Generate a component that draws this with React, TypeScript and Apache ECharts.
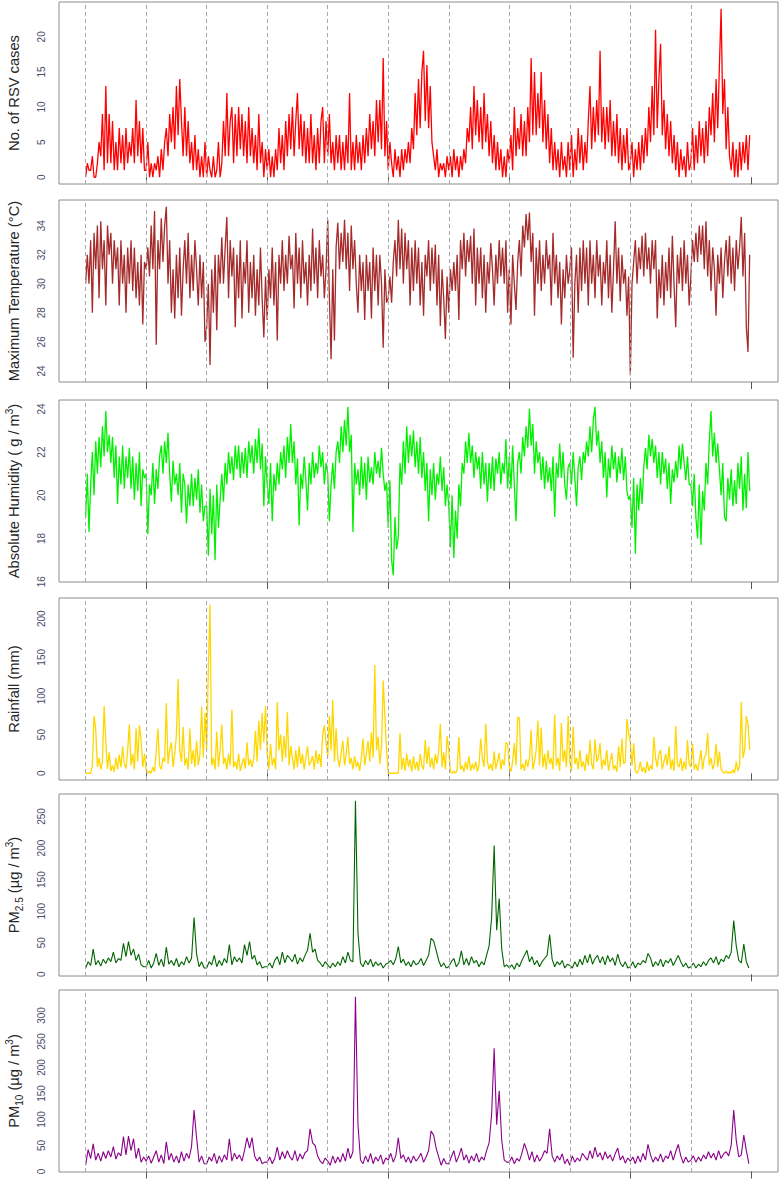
import React, { useEffect, useRef } from "react";
import * as echarts from "echarts";

// ---- data (one row per year) ----
const yearStarts = [0, 1, 2, 3, 4, 5, 6, 7, 8, 9, 10];
const xTicks = [1, 3, 5, 7, 9, 11];

// 36 samples per year
const rsvCases: number[] = [
  0,2,1, 1,3,0, 0,2,5, 3,9,1, 13,2,9, 2,8,1, 5,1,7, 2,6,1, 7,2,5, 3,7,2, 11,3,8, 2,7,1,
  1,5,0, 2,0,2, 1,3,0, 4,1,5, 7,3,9, 5,10,4, 13,6,14, 8,3,10, 3,8,2, 5,1,6, 1,4,0, 3,0,5,
  0,3,1, 0,3,0, 1,5,0, 2,8,3, 12,3,8, 10,2,9, 3,10,4, 9,3,8, 2,10,3, 7,2,6, 1,9,2, 5,0,4,
  1,4,0, 3,0,4, 1,7,2, 6,1,8, 3,9,4, 10,3,8, 12,4,9, 3,8,2, 7,2,9, 2,6,1, 7,2,8, 10,2,8,
  3,9,2, 5,1,6, 2,6,1, 5,1,6, 2,12,1, 5,1,6, 2,5,1, 6,2,7, 3,9,4, 8,3,11, 5,11,4, 17,3,8,
  1,5,2, 0,4,1, 3,0,4, 1,4,2, 5,2,7, 4,12,6, 14,7,15, 18,8,16, 7,13,5, 3,1,4, 0,2,1, 2,0,3,
  1,3,0, 4,1,3, 0,3,1, 4,2,7, 5,10,4, 13,6,11, 5,10,4, 12,5,9, 3,8,2, 6,1,5, 1,4,0, 3,0,4,
  2,6,1, 10,3,7, 4,9,3, 8,3,10, 5,17,6, 15,6,12, 7,15,5, 11,4,9, 2,7,1, 5,1,4, 0,5,1, 3,0,5,
  1,6,0, 4,1,7, 2,6,1, 5,2,8, 13,4,10, 5,11,6, 18,5,10, 4,10,5, 11,3,8, 3,9,2, 7,1,6, 2,7,1,
  2,5,0, 4,1,5, 1,6,2, 7,3,10, 5,13,6, 21,7,14, 19,6,11, 4,9,3, 8,2,6, 1,5,0, 4,1,3, 0,5,1,
  2,7,1, 6,2,8, 3,7,2, 8,3,10, 6,12,5, 14,7,16, 24,9,14, 4,10,3, 1,5,0, 4,0,5, 1,5,2, 6,1,6,
];

const maxTemperature: number[] = [
  30,32,30, 33,28,33.5, 31,34,29, 34.3,31,33, 28.5,34,32, 33.5,30,33, 31,32.5,28.5, 33,30,32, 28,32.5,30, 33,29.5,32.5, 29,31.5,28.5, 32,27.2,31.5,
  31,32.5,30.5, 34,31,35, 25.8,33,31, 34.5,31.5,34, 35.3,30,33, 28,31,27.6, 32,29,32.5, 27.8,31,33, 30,33.5,29, 32,29.5,33, 31,28.5,32, 29,31.5,26,
  27,30,24.4, 31,28,32, 26.8,32,30, 33.2,30,32.5, 34.6,29,33, 30.5,32.5,27, 32,29,33, 27.6,31.5,30, 33,28,31.5, 29,32,27.8, 31,28.5,32.5, 29,26.3,30.5,
  27.5,31,29, 32.5,28.5,31.5, 26.1,32,30, 33,29.5,32, 30,33.3,31, 32,28.3,33.5, 30,32.5,29, 33,30,31.5, 28.5,32,29.5, 33.8,30,32.5, 29,33,30.5, 32,29,31,
  34.4,29,24.8, 31,26.1,32.5, 34.2,31,33.5, 31.5,34.4,31, 33.5,29.5,34, 31,33,30, 28,32,29.5, 31.5,27.5,32, 29.5,31.5,27.6, 32.5,29.5,32, 28.5,32,30, 25.6,31,28.7,
  29,30.5,28.7, 31.5,33,30.5, 34.4,31,33.8, 30,33.5,31, 33,28.5,32.5, 29.5,33,30, 32.5,28.5,31.5, 27.8,32,30.5, 33,29.5,32.5, 30,32.7,28.5, 32,27.1,31, 29,26.2,30.5,
  28,31,29.5, 31.5,29.5,32, 27.5,33,31, 33.5,30.5,33, 31.5,33.3,30, 33.8,28.5,32.5, 30,32.5,29, 32,28,31.5, 30,32.8,31, 28.5,32,30, 33,30.5,32.5, 30,33,28,
  31,27.2,32, 30,28.2,31.5, 33,30.5,34, 32.5,34.8,33, 34.9,31.5,33.5, 27.8,32.5,30, 33,29.5,32, 30,33,31, 32,28.5,33.5, 30,32,29, 31.5,27.2,31, 29,32,30,
  31,32.5,24.9, 30,32,28, 32.5,29.5,33, 30,32.5,28.5, 33,30,32, 29,33,30.5, 32,28.5,31.5, 30,33,29, 32,28,31, 34.3,30,32.5, 28.8,32,30, 31,27.8,30.5,
  23.7,30,31.5, 33,30,32.5, 31,33.3,30.5, 33.5,31,32.5, 30,33,31, 33,27.6,31, 29,32,28.5, 31.5,29.5,32.5, 29,33.3,30, 27,32,30, 32.5,29.5,33, 30,32,28.5,
  30.5,33,31.5, 33.5,31.5,34, 32,34,31, 34.3,30.5,33, 29.5,32.5,31, 27.8,32,30, 32.5,29,31.5, 33,30.5,33.3, 30,32.5,29.5, 33,31,32.5, 34.6,30.5,33.5, 27,25.3,32,
];

const absHumidity: number[] = [
  19,21,18.3, 20.5,22,20, 22.5,21,22.7, 21.3,23.2,21.8, 23.9,22,22.8, 21.5,22.7,20.8, 22.3,19.6,21.8, 20.5,22.3,20.3, 21.8,20.8,22.2, 20.3,21.8,19.8, 21.5,20.2,22, 19.5,21.2,20.8,
  21,18.2,20.5, 20,21.5,19.6, 21.2,20.3,21.8, 22.3,21,22.5, 21.5,22.9,21, 19.7,21.6,20.5, 21,20,21.5, 19.2,21,20.5, 18.7,20.5,19.5, 21,19.5,20.8, 19.8,21.2,19.2, 20.5,18.8,19.5,
  19.5,17.2,20.3, 18.2,20,17, 20.5,18.5,19.8, 21,19.7,21.5, 20.5,22,21, 21.8,20.7,22.3, 21.2,22.3,20.8, 22,21,22.2, 20.8,22.5,21.5, 22.3,21,22.6, 21.5,23.1,21.2, 22.4,19.5,21.8,
  20.5,19.6,21.5, 18.8,21,20.2, 21.5,20.5,22, 21.2,22.3,20.8, 22.7,21.5,23.3, 21.5,22.5,20.5, 21.7,18.6,21, 20.3,21.8,20.7, 19.3,21.5,20.5, 22,20.8,21.5, 21,22.3,21.3, 22,20.5,21.5,
  21,18.8,20.5, 21.5,20.3,22, 22.5,21.5,23.2, 22,23.5,22.3, 24.1,22,22.8, 18.3,21.5,20.5, 21.2,20,21.8, 20.3,21.5,19.8, 21.8,20.6,21.3, 20.5,22,21, 21.6,20.8,22.2, 21,20.2,20.6,
  18.5,20.7,17, 16.3,19,17.5, 18.1,21.5,20.5, 22.5,21,23.2, 21.5,22.8,21.8, 23,21.3,22.5, 21,22.7,20.8, 22,20.2,21.5, 18.8,21.2,20, 21.5,19.8,21, 20.5,21.8,20.2, 21.3,19.5,20.5,
  19.5,17.6,20, 17.1,19.3,18, 20.5,19.5,21.5, 21,22.5,21.5, 22.9,21.5,22.3, 20.8,22,21.2, 21.8,20.3,22, 20.5,21.5,19.7, 21.5,20.3,21.8, 20.2,21.7,21, 22,20.5,21.5, 21,22.6,20.3,
  21.8,20.3,22.3, 20.5,18.8,21.5, 22,21,22.7, 21.8,23.2,22.2, 24,22.3,23.3, 21,22.5,21.5, 22,20.7,21.8, 20.3,21.6,20.6, 21.3,20.2,21.8, 19,21.5,20.8, 22.4,20.8,22, 20.5,19.8,21.3,
  21.5,20.5,22, 20.8,19.5,21.3, 21.8,20.7,22, 21.5,22.5,21.8, 23.2,22,23.5, 24.1,22.3,23, 21.5,22.5,20.8, 22,19.9,21.7, 20.8,22.3,21.2, 22,20.6,21.8, 21,22.2,20.7, 21.8,20.2,19.8,
  20,18.5,20.8, 17.3,20.5,19.3, 20.8,19.6,21.3, 22.2,21.2,22.8, 21.8,22.6,21.5, 22.3,20.8,22, 20.5,22,21, 21.7,20.3,21.5, 19.6,21.2,20.6, 21.6,20.8,22.3, 21.2,22.4,21.5, 20.7,21.8,20.5,
  20.5,19.5,21, 19,18,20.5, 17.7,20.2,19.3, 21.5,20.5,22.5, 23.9,21.8,22.9, 21.5,22.4,21.2, 20,21.5,19, 18.8,20.8,19.8, 21.2,19.5,20.7, 19.6,21.5,20.3, 21.8,19.3,21, 19.4,22,20.2,
];

const rainfall: number[] = [
  0,0,0, 0,10,74, 57,8,20, 5,15,87, 40,6,27, 3,10,2, 20,5,24, 8,35,12, 6,30,63, 10,25,5, 58,15,62, 43,8,25,
  5,0,3, 0,8,2, 28,58,10, 5,20,15, 91,12,30, 40,8,25, 50,122,30, 15,60,10, 20,5,58, 12,30,8, 42,10,25, 86,20,78,
  30,135,218, 10,20,5, 54,8,30, 63,12,20, 5,25,10, 82,8,15, 5,25,3, 12,20,6, 40,10,18, 8,20,55, 15,68,30, 78,40,87,
  25,5,38, 10,20,5, 92,30,50, 15,48,20, 79,10,35, 20,5,30, 8,35,12, 25,5,20, 35,10,15, 22,5,30, 12,25,8, 50,62,40,
  20,74,30, 95,15,58, 20,8,28, 42,10,25, 47,12,20, 5,22,8, 15,3,20, 45,10,25, 42,15,53, 20,140,30, 47,12,35, 120,75,30,
  0,0,0, 0,0,0, 0,52,5, 20,3,25, 8,18,2, 22,5,15, 3,25,10, 5,43,12, 35,8,20, 5,25,12, 30,64,8, 27,5,48,
  30,2,0, 3,0,5, 47,5,10, 2,15,5, 22,3,12, 5,15,2, 10,45,20, 8,64,15, 5,12,3, 28,6,15, 26,5,18, 10,40,38,
  8,2,15, 39,10,72, 72,5,12, 3,18,8, 20,56,5, 15,30,68, 10,59,8, 25,5,30, 12,20,5, 76,10,20, 3,65,15, 30,8,74,
  15,3,60, 12,20,5, 30,8,15, 3,25,10, 43,12,5, 44,15,20, 39,5,18, 10,30,3, 15,26,5, 10,2,35, 8,45,12, 15,70,52,
  41,10,39, 3,0,5, 15,2,8, 0,15,3, 10,5,47, 20,8,25, 30,5,15, 25,10,35, 5,18,3, 61,12,8, 20,3,15, 5,43,12,
  8,38,5, 12,3,15, 30,5,20, 25,52,10, 20,5,12, 38,8,28, 5,2,0, 3,0,2, 0,5,0, 15,3,10, 92,20,30, 74,64,30,
];

// 24 samples per year
const pm25: number[] = [
  10,20,14,40,15,22,13,24,17,26,20,35,18,25,22,49,28,52,30,40,22,32,15,12,
  12,22,10,18,33,14,24,12,43,16,22,14,25,12,20,15,28,18,25,90,32,12,20,10,
  10,20,15,30,12,22,14,25,18,47,15,28,20,26,18,47,30,52,24,30,15,20,10,12,
  12,18,10,22,28,15,35,18,30,25,20,32,16,26,20,30,38,65,35,40,22,18,12,20,
  15,10,18,12,20,14,28,18,35,22,20,275,65,18,12,22,15,24,12,20,14,18,10,16,
  18,22,15,25,44,18,24,14,20,12,22,15,18,25,14,22,30,57,53,38,22,12,18,10,
  12,20,25,12,18,37,15,25,14,28,18,22,12,20,15,30,45,90,204,70,120,40,12,15,
  10,15,8,18,12,22,30,38,20,28,15,22,12,20,25,30,63,24,12,20,15,22,10,16,
  14,10,20,12,24,15,30,18,32,16,25,30,18,28,15,30,20,26,14,32,18,12,20,10,
  12,20,10,18,15,22,18,33,26,12,20,14,24,12,22,18,25,14,22,30,20,12,18,10,
  12,18,10,16,12,20,14,22,26,18,28,15,24,20,30,25,35,85,45,22,18,48,20,10,
];

const pm10: number[] = [
  12,42,25,53,22,35,20,38,25,40,28,48,24,36,30,67,32,68,40,63,25,45,18,28,
  20,30,16,28,40,18,32,15,57,22,35,18,30,16,38,20,35,25,48,118,65,18,30,15,
  15,28,20,35,15,30,18,32,22,63,20,35,24,32,20,40,65,45,65,30,20,28,15,18,
  18,28,15,25,47,22,38,25,40,28,22,40,20,34,24,36,40,82,55,50,30,20,15,26,
  20,12,30,16,28,18,35,20,45,25,38,336,90,22,15,30,18,35,15,28,20,32,14,26,
  22,35,18,30,65,25,32,18,28,16,30,20,26,35,18,28,40,78,70,45,28,12,25,15,
  15,28,40,18,30,45,22,32,16,30,20,35,18,28,22,40,55,110,237,90,155,60,22,18,
  18,28,15,25,20,35,54,40,22,38,18,32,20,28,40,35,82,30,18,30,22,34,15,24,
  12,30,18,26,20,35,28,22,40,25,47,28,36,22,38,25,32,20,34,45,22,30,16,26,
  20,28,15,30,18,35,22,52,32,18,28,20,34,18,30,25,40,22,38,52,30,16,28,18,
  22,30,18,28,20,32,24,38,26,35,22,40,25,34,38,30,50,118,60,28,32,70,40,15,
];

const rsvTicks = [0, 5, 10, 15, 20];
const tempTicks = [24, 26, 28, 30, 32, 34];
const humTicks = [16, 18, 20, 22, 24];
const rainTicks = [0, 50, 100, 150, 200];
const pm25Ticks = [0, 50, 100, 150, 200, 250];
const pm10Ticks = [0, 50, 100, 150, 200, 250, 300];

// ---- layout / style ----
const FONT = "'Liberation Sans', Arial, sans-serif";
const TITLE_COLOR = "#262626";
const LABEL_COLOR = "#4b4b6b";
const TOPS = [2, 200, 400, 598, 794, 990];
const PANEL_H = 182;
const SPAN_YEARS = 11;

const panels = [
  { values: rsvCases, perYear: 36, color: "#ff0000", width: 1.3, ticks: rsvTicks, name: "{b|No. of RSV cases}" },
  { values: maxTemperature, perYear: 36, color: "#a52a2a", width: 1.3, ticks: tempTicks, name: "{b|Maximum Temperature (°C)}" },
  { values: absHumidity, perYear: 36, color: "#00f000", width: 1.3, ticks: humTicks, name: "{b|Absolute Humidity ( g / m}{sup|3}{b|)}" },
  { values: rainfall, perYear: 36, color: "#ffd700", width: 1.3, ticks: rainTicks, name: "{b|Rainfall (mm)}" },
  { values: pm25, perYear: 24, color: "#006400", width: 1.1, ticks: pm25Ticks, name: "{b|PM}{sub|2.5}{b| (µg / m}{sup|3}{b|)}" },
  { values: pm10, perYear: 24, color: "#8b008b", width: 1.1, ticks: pm10Ticks, name: "{b|PM}{sub|10}{b| (µg / m}{sup|3}{b|)}" },
];

function paddedRange(values: number[]): [number, number] {
  const lo = Math.min(...values);
  const hi = Math.max(...values);
  const pad = (hi - lo) * 0.04;
  return [lo - pad, hi + pad];
}

export default function App() {
  const ref = useRef<HTMLDivElement>(null);

  useEffect(() => {
    if (!ref.current) return;
    const chart = echarts.init(ref.current, undefined, { renderer: "svg" });

    const grid: any[] = [];
    const xAxis: any[] = [];
    const yAxis: any[] = [];
    const series: any[] = [];

    panels.forEach((p, i) => {
      const [ymin, ymax] = paddedRange(p.values);
      grid.push({
        left: 59,
        right: 4,
        top: TOPS[i],
        height: PANEL_H,
        show: true,
        containLabel: false,
        outerBoundsMode: "none",
        borderColor: "#8c8c8c",
        borderWidth: 1,
        backgroundColor: "transparent",
      });
      xAxis.push({
        type: "value",
        gridIndex: i,
        min: -0.04 * SPAN_YEARS,
        max: SPAN_YEARS * 1.04,
        axisLine: { show: false },
        splitLine: { show: false },
        axisLabel: { show: false, customValues: xTicks },
        axisTick: {
          show: true,
          customValues: xTicks,
          length: 7,
          lineStyle: { color: "#555555", width: 1 },
        },
      });
      yAxis.push({
        type: "value",
        gridIndex: i,
        min: ymin,
        max: ymax,
        axisLine: { show: false },
        splitLine: { show: false },
        axisTick: { show: false, customValues: p.ticks },
        axisLabel: {
          customValues: p.ticks,
          rotate: 90,
          margin: 13,
          color: LABEL_COLOR,
          fontSize: 10,
          fontFamily: FONT,
          formatter: (v: number) => String(v),
        },
        name: p.name,
        nameLocation: "middle",
        nameRotate: 90,
        nameGap: 35,
        nameTextStyle: {
          rich: {
            b: { fontSize: 14.7, fontFamily: FONT, color: TITLE_COLOR, lineHeight: 20 },
            sup: { fontSize: 10, fontFamily: FONT, color: TITLE_COLOR, lineHeight: 10, verticalAlign: "top" },
            sub: { fontSize: 10, fontFamily: FONT, color: TITLE_COLOR, lineHeight: 10, verticalAlign: "bottom" },
          },
        },
      });
      series.push({
        type: "line",
        xAxisIndex: i,
        yAxisIndex: i,
        data: [],
        silent: true,
        z: 1,
        markLine: {
          silent: true,
          symbol: ["none", "none"],
          label: { show: false },
          lineStyle: { type: [4, 3], color: "#a8a8a8", width: 1 },
          data: yearStarts.map((y) => ({ xAxis: y })),
        },
      });
      series.push({
        type: "line",
        xAxisIndex: i,
        yAxisIndex: i,
        data: p.values.map((v, k) => [k / p.perYear, v]),
        showSymbol: false,
        symbol: "none",
        silent: true,
        z: 3,
        lineStyle: { color: p.color, width: p.width },
        itemStyle: { color: p.color },
      });
    });

    chart.setOption({
      animation: false,
      backgroundColor: "#ffffff",
      grid,
      xAxis,
      yAxis,
      series,
    });

    return () => chart.dispose();
  }, []);

  return (
    <div
      ref={ref}
      style={{ position: "absolute", left: 0, top: 0, width: 782, height: 1181 }}
    />
  );
}
